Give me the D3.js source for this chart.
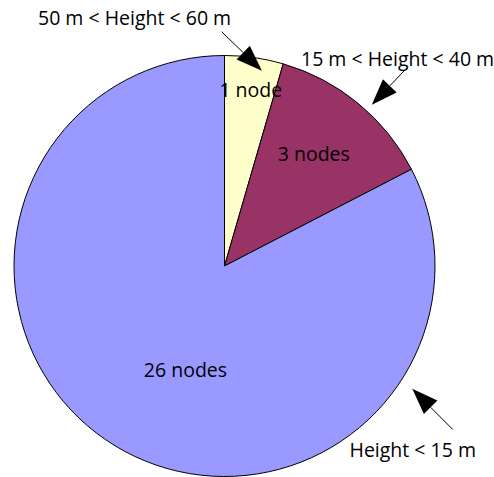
<!DOCTYPE html>
<html>
<head>
<meta charset="utf-8">
<script src="https://cdn.jsdelivr.net/npm/d3@7"></script>
<style>
  html, body { margin: 0; padding: 0; background: #ffffff; }
  svg { display: block; }
  text { font-family: "Open Sans", sans-serif; font-size: 19.5px; fill: #000; }
</style>
</head>
<body>
<div id="chart"></div>
<script>
// ---- data ----
const categories = ["50 m < Height < 60 m", "15 m < Height < 40 m", "Height < 15 m"];
const nodeLabels = ["1 node", "3 nodes", "26 nodes"];
const sliceShare = [4.5, 12.9, 82.6];   // percent of the disc
const colors = ["#FFFFCC", "#993366", "#9999FF"];

// ---- layout ----
const W = 494, H = 477;
const cx = 224.5, cy = 266, R = 210.5;
// inner label placement: [angle in degrees clockwise from north, radius as fraction of R]
const innerLabelPolar = [[8.5, 0.845], [38.6, 0.68], [200.6, 0.527]];
// outer category labels (start x, baseline y)
const outerLabelPos = [[38, 25], [301, 65.7], [349.5, 456.5]];
// arrows: tail and tip as [angle deg, radius fraction]
const arrowPolar = [
  { tail: [-0.7, 1.113], tip: [10.84, 0.945] },
  { tail: [42.65, 1.281], tip: [42.4, 1.038] },
  { tail: [125.6, 1.333], tip: [123.2, 1.066] }
];

const svg = d3.select("#chart").append("svg")
  .attr("width", W).attr("height", H);
svg.append("rect").attr("width", W).attr("height", H).attr("fill", "#fff");

const g = svg.append("g").attr("transform", `translate(${cx},${cy})`);

const pie = d3.pie().sort(null).value(d => d).startAngle(0).endAngle(2 * Math.PI);
const arcs = pie(sliceShare);
const arc = d3.arc().innerRadius(0).outerRadius(R);

g.selectAll("path.slice").data(arcs).join("path")
  .attr("class", "slice")
  .attr("d", arc)
  .attr("fill", (d, i) => colors[i])
  .attr("stroke", "#000")
  .attr("stroke-width", 1)
  .attr("stroke-linejoin", "round");

const rad = deg => deg * Math.PI / 180;

g.selectAll("text.inner").data(nodeLabels).join("text")
  .attr("class", "inner")
  .attr("text-anchor", "middle")
  .attr("dy", "0.35em")
  .attr("x", (d, i) => d3.pointRadial(rad(innerLabelPolar[i][0]), innerLabelPolar[i][1] * R)[0])
  .attr("y", (d, i) => d3.pointRadial(rad(innerLabelPolar[i][0]), innerLabelPolar[i][1] * R)[1])
  .text(d => d);

// arrows
const headLen = 26, headHalf = 9.5;
arrowPolar.forEach(a => {
  const t0 = d3.pointRadial(rad(a.tail[0]), a.tail[1] * R);
  const t1 = d3.pointRadial(rad(a.tip[0]), a.tip[1] * R);
  const dx = t1[0] - t0[0], dy = t1[1] - t0[1];
  const len = Math.hypot(dx, dy);
  const ux = dx / len, uy = dy / len;
  const bx = t1[0] - ux * headLen, by = t1[1] - uy * headLen;
  g.append("line")
    .attr("x1", t0[0]).attr("y1", t0[1])
    .attr("x2", bx).attr("y2", by)
    .attr("stroke", "#000").attr("stroke-width", 1);
  g.append("polygon")
    .attr("points", [
      [t1[0], t1[1]],
      [bx - uy * headHalf, by + ux * headHalf],
      [bx + uy * headHalf, by - ux * headHalf]
    ].map(p => p.join(",")).join(" "))
    .attr("fill", "#000");
});

svg.selectAll("text.outer").data(categories).join("text")
  .attr("class", "outer")
  .attr("x", (d, i) => outerLabelPos[i][0])
  .attr("y", (d, i) => outerLabelPos[i][1])
  .text(d => d);
</script>
</body>
</html>
